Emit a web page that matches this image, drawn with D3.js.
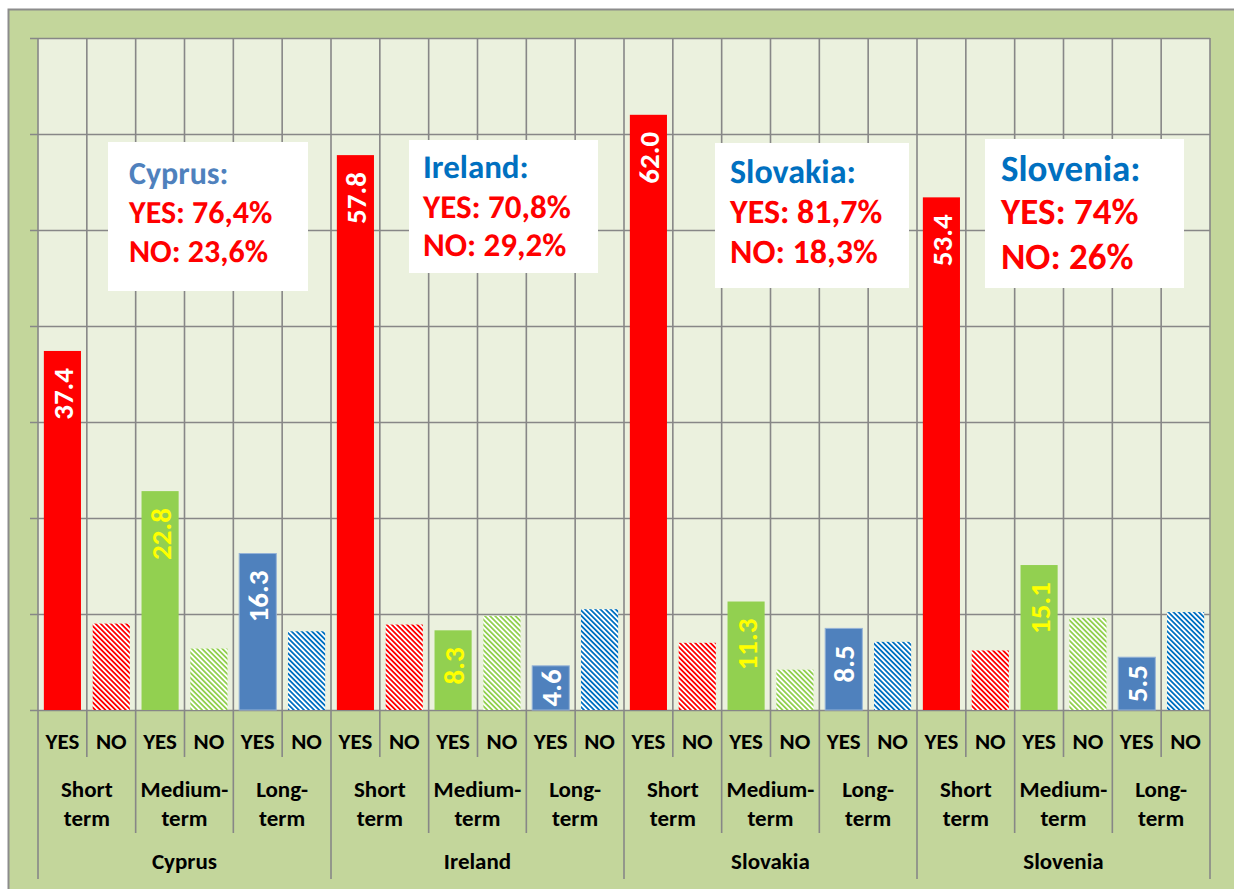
<!DOCTYPE html>
<meta charset="utf-8">
<title>YES / NO by term</title>
<style>
body { margin: 0; background: #fff; }
svg text { font-family: Carlito, Lato, "Liberation Sans", sans-serif; font-weight: bold; }
</style>
<body>
<svg width="1234" height="889"></svg>
<script src="https://d3js.org/d3.v7.min.js"></script>
<script>
// data (percent)
var countries = ["Cyprus", "Ireland", "Slovakia", "Slovenia"];
var terms = ["Short term", "Medium-term", "Long-term"];
var termLines = [["Short", "term"], ["Medium-", "term"], ["Long-", "term"]];
var answers = ["YES", "NO"];
var yesValues = [[37.4, 22.8, 16.3], [57.8, 8.3, 4.6], [62.0, 11.3, 8.5], [53.4, 15.1, 5.5]];
var noValues = [[9.0, 6.4, 8.2], [8.9, 9.8, 10.5], [7.0, 4.2, 7.1], [6.2, 9.6, 10.2]];
var yesTotals = ["76,4%", "70,8%", "81,7%", "74%"];
var noTotals = ["23,6%", "29,2%", "18,3%", "26%"];
var yTicks = [0, 10, 20, 30, 40, 50, 60, 70];

// styles
var barColors = ["#ff0000", "#92d050", "#4f81bd"];
var hatchColors = ["#ff0000", "#92d050", "#0070c0"];
var labelColors = ["#ffffff", "#ffff00", "#ffffff"];
var gridColor = "#878787";

var svg = d3.select("svg");

var plot = {left: 38, right: 1210, top: 38, bottom: 710};

var rows = [];
countries.forEach(function(c, ci) {
  terms.forEach(function(t, ti) {
    answers.forEach(function(a, ai) {
      rows.push({country: c, ci: ci, term: t, ti: ti, answer: a, ai: ai,
                 value: ai == 0 ? yesValues[ci][ti] : noValues[ci][ti],
                 key: c + "|" + t + "|" + a});
    });
  });
});

var x = d3.scaleBand()
    .domain(rows.map(function(d) { return d.key; }))
    .range([plot.left, plot.right])
    .paddingInner(0.24)
    .paddingOuter(0.12);

var y = d3.scaleLinear()
    .domain([0, 70])
    .range([plot.bottom, plot.top]);

var bw = x.bandwidth();
function edge(i) { return x(rows[Math.min(i, rows.length - 1)].key) - x.step() * x.paddingOuter() + (i >= rows.length ? x.step() : 0); }

// outer chart area
svg.append("rect")
    .attr("x", 8.5).attr("y", 9.5)
    .attr("width", 1240).attr("height", 900)
    .attr("fill", "#c3d69b")
    .attr("stroke", "#8c8c8c").attr("stroke-width", 2);

// plot background
svg.append("rect")
    .attr("x", plot.left).attr("y", plot.top)
    .attr("width", plot.right - plot.left).attr("height", plot.bottom - plot.top)
    .attr("fill", "#ebf1de");

// hatch patterns for the NO bars
var defs = svg.append("defs");
hatchColors.forEach(function(col, i) {
  var p = defs.append("pattern")
      .attr("id", "hatch" + i)
      .attr("patternUnits", "userSpaceOnUse")
      .attr("width", 3.6).attr("height", 3.6)
      .attr("patternTransform", "rotate(-45)");
  p.append("rect").attr("width", 3.6).attr("height", 3.6).attr("fill", "#fff");
  p.append("rect").attr("width", 2.1).attr("height", 3.6).attr("fill", col)
      .attr("shape-rendering", "crispEdges");
});

// horizontal gridlines
svg.append("g")
    .attr("transform", "translate(30,0)")
    .call(d3.axisLeft(y).tickValues(yTicks).tickSizeInner(-(plot.right - 30)).tickSizeOuter(0).tickFormat(""))
    .call(function(g) { g.select(".domain").remove(); })
    .selectAll("line")
      .attr("stroke", gridColor)
      .attr("stroke-width", 1.6);

// vertical gridlines + category separators
var edges = d3.range(rows.length + 1);
svg.append("g")
  .selectAll("line")
  .data(edges)
  .enter().append("line")
    .attr("x1", function(i) { return edge(i); })
    .attr("x2", function(i) { return edge(i); })
    .attr("y1", plot.top)
    .attr("y2", function(i) {
      if (i % 6 == 0) return 879;
      if (i % 2 == 0) return 833;
      return 757;
    })
    .attr("stroke", gridColor)
    .attr("stroke-width", 1.6);

// bars
svg.append("g")
  .selectAll("rect")
  .data(rows)
  .enter().append("rect")
    .attr("x", function(d) { return x(d.key); })
    .attr("y", function(d) { return y(d.value); })
    .attr("width", bw)
    .attr("height", function(d) { return y(0) - y(d.value); })
    .attr("fill", function(d) { return d.ai == 0 ? barColors[d.ti] : "url(#hatch" + d.ti + ")"; })
    .attr("stroke", function(d) { return d.ai == 0 && d.ti == 2 ? "#95b3d7" : "none"; })
    .attr("stroke-width", 1);

// value labels on YES bars
var fmt = d3.format(".1f");
svg.append("g")
  .selectAll("text")
  .data(rows.filter(function(d) { return d.ai == 0; }))
  .enter().append("text")
    .attr("text-anchor", "end")
    .attr("dy", "0.36em")
    .attr("font-size", 29)
    .attr("fill", function(d) { return labelColors[d.ti]; })
    .text(function(d) { return fmt(d.value); })
    .attr("transform", function(d) {
      var len = this.getComputedTextLength();
      var top = y(d.value), bot = y(0);
      var pos = Math.min(top + 17, (top + bot) / 2 - len / 2);
      return "translate(" + (x(d.key) + bw / 2) + "," + pos + ") rotate(-90)";
    });

// axis labels: YES / NO
svg.append("g")
  .selectAll("text")
  .data(rows)
  .enter().append("text")
    .attr("x", function(d) { return x(d.key) + bw / 2; })
    .attr("y", 749)
    .attr("text-anchor", "middle")
    .attr("font-size", 23)
    .attr("fill", "#000")
    .text(function(d) { return d.answer; });

// axis labels: terms
var termCells = rows.filter(function(d) { return d.ai == 0; });
var tg = svg.append("g")
  .selectAll("text")
  .data(termCells)
  .enter().append("text")
    .attr("text-anchor", "middle")
    .attr("font-size", 23)
    .attr("fill", "#000");
tg.append("tspan")
    .attr("x", function(d) { return x(d.key) + x.step() / 2 + bw / 2; })
    .attr("y", 797)
    .text(function(d) { return termLines[d.ti][0]; });
tg.append("tspan")
    .attr("x", function(d) { return x(d.key) + x.step() / 2 + bw / 2; })
    .attr("y", 826)
    .text(function(d) { return termLines[d.ti][1]; });

// axis labels: countries
svg.append("g")
  .selectAll("text")
  .data(countries)
  .enter().append("text")
    .attr("x", function(c, ci) { return (edge(ci * 6) + edge(ci * 6 + 6)) / 2; })
    .attr("y", 869)
    .attr("text-anchor", "middle")
    .attr("font-size", 23)
    .attr("fill", "#000")
    .text(function(c) { return c; });

// summary boxes
var boxes = [
  {x: 108, y: 142, w: 200, h: 149, tx: 129, fs: 32, base: [184, 223, 262], title: "#4f81bd"},
  {x: 409, y: 140, w: 189, h: 133, tx: 423, fs: 33, base: [178, 218, 256], title: "#0070c0"},
  {x: 715, y: 143, w: 194, h: 145, tx: 730, fs: 34, base: [183, 223, 263], title: "#0070c0"},
  {x: 985, y: 139, w: 199, h: 149, tx: 1001, fs: 37, base: [181, 224, 269], title: "#0070c0"}
];
var bg = svg.append("g")
  .selectAll("g")
  .data(countries)
  .enter().append("g");
bg.append("rect")
    .attr("x", function(c, i) { return boxes[i].x; })
    .attr("y", function(c, i) { return boxes[i].y; })
    .attr("width", function(c, i) { return boxes[i].w; })
    .attr("height", function(c, i) { return boxes[i].h; })
    .attr("fill", "#fff");
bg.each(function(c, i) {
  var b = boxes[i];
  var lines = [c + ":", "YES: " + yesTotals[i], "NO: " + noTotals[i]];
  d3.select(this).selectAll("text.sum")
    .data(lines)
    .enter().append("text")
      .attr("class", "sum")
      .attr("x", b.tx)
      .attr("y", function(t, j) { return b.base[j]; })
      .attr("font-size", b.fs)
      .attr("fill", function(t, j) { return j == 0 ? b.title : "#ff0000"; })
      .attr("text-rendering", "geometricPrecision")
      .text(function(t) { return t; });
});
</script>
</body>
